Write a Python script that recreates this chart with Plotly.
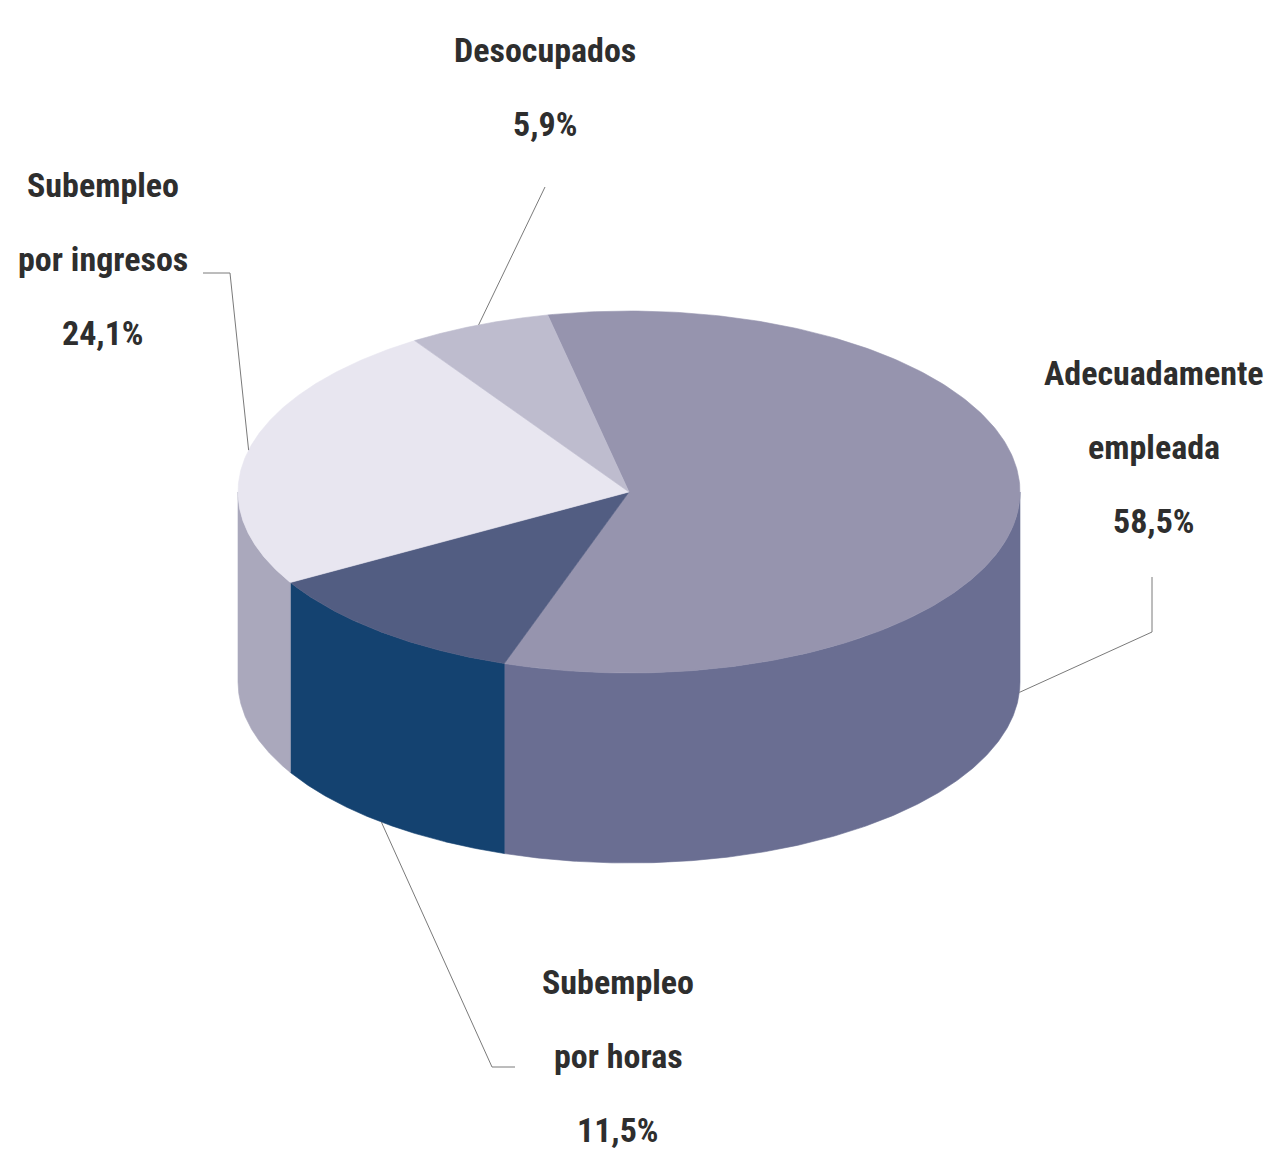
import numpy as np
import plotly.graph_objects as go

# ---------------- data ----------------
categories = ["Adecuadamente empleada", "Subempleo por horas",
              "Subempleo por ingresos", "Desocupados"]
label_lines = [["Adecuadamente", "empleada"], ["Subempleo", "por horas"],
               ["Subempleo", "por ingresos"], ["Desocupados"]]
values = [58.5, 11.5, 24.1, 5.9]

# ---------------- style ----------------
top_colors = ["#9694AE", "#525D82", "#E8E6F0", "#BEBCCE"]
side_colors = ["#6A6E92", "#144270", "#AAA8BC", "#9A98AE"]

W, H = 1271, 1156
CX, CY, RX, RY, DEPTH = 629, 492, 391, 181, 190
START = -12  # first slice angle, degrees clockwise from 12 o'clock
FONT = "Liberation Sans Narrow, Roboto Condensed, DejaVu Sans Condensed, Arial Narrow, sans-serif"
LINE_GAP = 74

# label placement (text centre x, first line y, elbow points of leader line)
label_style = [
    dict(x=1154, y=373, elbow=[(1152, 632), (1152, 577)]),
    dict(x=618, y=982, elbow=[(492, 1067), (515, 1067)]),
    dict(x=103, y=185, elbow=[(230, 273), (203, 273)]),
    dict(x=545, y=50, elbow=[(545, 187)]),
]


def arc(a, b, dy=0, n=240):
    p = np.radians(np.linspace(a, b, n))
    return CX + RX * np.sin(p), CY - RY * np.cos(p) + dy


def point(a, dy=0):
    p = np.radians(a)
    return CX + RX * np.sin(p), CY - RY * np.cos(p) + dy


total = sum(values)
bounds = START + np.concatenate([[0], np.cumsum(values)]) / total * 360.0

fig = go.Figure()

# side walls (only front half visible)
for i, name in enumerate(categories):
    a, b = bounds[i], bounds[i + 1]
    for k in (-1, 0, 1):
        lo, hi = max(a, 90 + 360 * k), min(b, 270 + 360 * k)
        if hi <= lo:
            continue
        xt, yt = arc(lo, hi)
        xb, yb = arc(hi, lo, DEPTH)
        xs = np.concatenate([xt, xb, xt[:1]])
        ys = np.concatenate([yt, yb, yt[:1]])
        fig.add_trace(go.Scatter(x=xs, y=ys, mode="lines", fill="toself",
                                 fillcolor=side_colors[i],
                                 line=dict(color=side_colors[i], width=0.6),
                                 name=name, hoverinfo="name", showlegend=False))

# top faces
for i, name in enumerate(categories):
    a, b = bounds[i], bounds[i + 1]
    xt, yt = arc(a, b)
    xs = np.concatenate([[CX], xt, [CX]])
    ys = np.concatenate([[CY], yt, [CY]])
    fig.add_trace(go.Scatter(x=xs, y=ys, mode="lines", fill="toself",
                             fillcolor=top_colors[i],
                             line=dict(color=top_colors[i], width=0.6),
                             name=name, hoverinfo="name", showlegend=False))

# leader lines and labels
for i, name in enumerate(categories):
    a, b = bounds[i], bounds[i + 1]
    mid = ((a + b) / 2.0) % 360
    ax_, ay_ = point(mid, DEPTH if 90 < mid < 270 else 0)
    st = label_style[i]
    lx = [ax_] + [p[0] for p in st["elbow"]]
    ly = [ay_] + [p[1] for p in st["elbow"]]
    fig.add_trace(go.Scatter(x=lx, y=ly, mode="lines",
                             line=dict(color="#7a7a7a", width=1),
                             hoverinfo="skip", showlegend=False))
    pct = f"{values[i]:.1f}".replace(".", ",") + "%"
    lines = label_lines[i] + [pct]
    for k, t in enumerate(lines):
        fig.add_annotation(x=st["x"], y=st["y"] + k * LINE_GAP, text=f"<b>{t}</b>",
                           showarrow=False, xanchor="center", yanchor="middle",
                           font=dict(family=FONT, size=34, color="#2e2e2e"))

fig.update_xaxes(range=[0, W], visible=False)
fig.update_yaxes(range=[H, 0], visible=False)
fig.update_layout(width=W, height=H, autosize=False,
                  margin=dict(l=0, r=0, t=0, b=0),
                  paper_bgcolor="white", plot_bgcolor="white")

fig.write_html("out.html", config={"displayModeBar": False},
               post_script="document.body.style.margin='0';document.body.style.overflow='hidden';")
